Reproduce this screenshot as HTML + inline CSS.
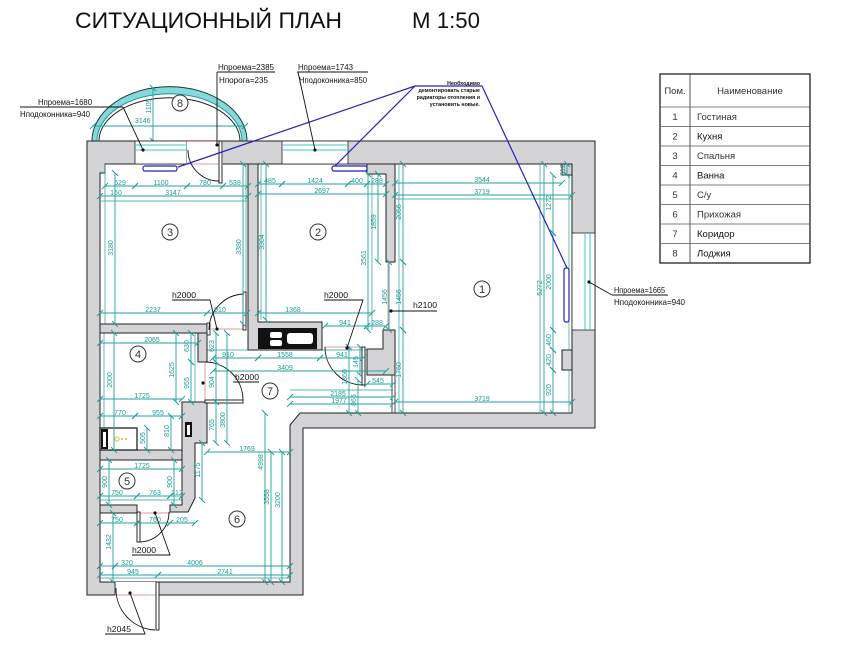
<!DOCTYPE html>
<html><head><meta charset="utf-8"><style>
html,body{margin:0;padding:0;background:#fff;}
svg{display:block}
.d{stroke:#22a09b;stroke-width:0.9;fill:none;marker-start:url(#t);marker-end:url(#t)}
.e{stroke:#22a09b;stroke-width:0.7;fill:none}
.dt{fill:#1f9a95;font-size:7px;font-family:"Liberation Sans",sans-serif}
.w{fill:#d4d4d6;stroke:#222;stroke-width:1}
.lb{fill:#111;font-size:8px;font-family:"Liberation Sans","DejaVu Sans",sans-serif}
.ln{stroke:#111;stroke-width:0.9;fill:none}
.pk{stroke:#e79aa6;stroke-width:1;fill:none}
.bl{stroke:#2424b8;stroke-width:1.2;fill:none}
.tb{fill:#333;font-size:9.5px;font-family:"Liberation Sans","DejaVu Sans",sans-serif}
.rn{fill:#fff;stroke:#333;stroke-width:1}
.rt{fill:#333;font-size:11px;font-family:"Liberation Sans",sans-serif;text-anchor:middle}
</style></head><body>
<svg width="866" height="657" viewBox="0 0 866 657" xmlns="http://www.w3.org/2000/svg">
<defs>
<marker id="t" markerWidth="8" markerHeight="8" refX="4" refY="4" orient="auto" markerUnits="userSpaceOnUse"><path d="M1,7 L7,1" stroke="#22a09b" stroke-width="1"/></marker>
</defs>

<!-- Title -->
<text x="75" y="28" font-size="22.5" textLength="267" lengthAdjust="spacingAndGlyphs" fill="#111" font-family="Liberation Sans, sans-serif">СИТУАЦИОННЫЙ ПЛАН</text>
<text x="412" y="28" font-size="22.5" textLength="68" lengthAdjust="spacingAndGlyphs" fill="#111" font-family="Liberation Sans, sans-serif">М 1:50</text>

<!-- Table -->
<rect x="660" y="74" width="150" height="189" fill="#fff" stroke="#222" stroke-width="1.3"/>
<line x1="690" y1="74" x2="690" y2="263" stroke="#444" stroke-width="0.9"/>
<g stroke="#555" stroke-width="0.8">
<line x1="660" y1="107" x2="810" y2="107"/>
<line x1="660" y1="126.5" x2="810" y2="126.5"/>
<line x1="660" y1="146" x2="810" y2="146"/>
<line x1="660" y1="165.5" x2="810" y2="165.5"/>
<line x1="660" y1="185" x2="810" y2="185"/>
<line x1="660" y1="204.5" x2="810" y2="204.5"/>
<line x1="660" y1="224" x2="810" y2="224"/>
<line x1="660" y1="243.5" x2="810" y2="243.5"/>
</g>
<text class="tb" x="675" y="94" text-anchor="middle">Пом.</text>
<text class="tb" x="750" y="94" text-anchor="middle">Наименование</text>
<g class="tb">
<text x="675" y="120" text-anchor="middle">1</text><text x="697" y="120">Гостиная</text>
<text x="675" y="139.5" text-anchor="middle">2</text><text x="697" y="139.5" fill="#111">Кухня</text>
<text x="675" y="159" text-anchor="middle">3</text><text x="697" y="159">Спальня</text>
<text x="675" y="178.5" text-anchor="middle">4</text><text x="697" y="178.5" fill="#111">Ванна</text>
<text x="675" y="198" text-anchor="middle">5</text><text x="697" y="198">С/у</text>
<text x="675" y="217.5" text-anchor="middle">6</text><text x="697" y="217.5">Прихожая</text>
<text x="675" y="237" text-anchor="middle">7</text><text x="697" y="237" fill="#111">Коридор</text>
<text x="675" y="256.5" text-anchor="middle">8</text><text x="697" y="256.5" fill="#111">Лоджия</text>
</g>

<!-- Balcony -->
<path d="M92,141 A77,54 0 0 1 247,141 L242,141 A72,47 0 0 0 97,141 Z" fill="#86d9da" stroke="#1a9a9a" stroke-width="1"/>
<path d="M92,141 A77,54 0 0 1 247,141" fill="none" stroke="#333" stroke-width="0.8"/>
<path d="M99,141 A70,43 0 0 1 240,141" fill="none" stroke="#222" stroke-width="1"/>
<line class="d" x1="93" y1="126" x2="245" y2="126"/>
<text class="dt" x="135" y="123">3146</text>
<line class="d" x1="153" y1="88" x2="153" y2="141"/>
<text class="dt" transform="translate(151,106) rotate(-90)" text-anchor="middle">1105</text>
<circle class="rn" cx="180" cy="103" r="8"/><text class="rt" x="180" y="107">8</text>

<!-- Building footprint -->
<path class="w" d="M87,141 H595 V428 H303 V595 H87 Z"/>
<!-- Interior -->
<path d="M105,164 H572 V413 H300 L290,425 V582 H100 V173 H105 Z" fill="#fff" stroke="#222" stroke-width="1"/>

<!-- top windows -->
<rect x="135" y="141" width="52" height="23" fill="#fff" stroke="#222" stroke-width="0.8"/>
<line x1="135" y1="145" x2="187" y2="145" stroke="#3cc9cf" stroke-width="1"/>
<line x1="135" y1="150" x2="187" y2="150" stroke="#3cc9cf" stroke-width="1"/>
<rect x="282" y="141" width="66" height="23" fill="#fff" stroke="#222" stroke-width="0.8"/>
<line x1="282" y1="145" x2="348" y2="145" stroke="#3cc9cf" stroke-width="1"/>
<line x1="282" y1="150" x2="348" y2="150" stroke="#3cc9cf" stroke-width="1"/>
<!-- balcony door -->
<rect x="187" y="141" width="36" height="23" fill="#fff"/>
<line class="pk" x1="187" y1="141.5" x2="223" y2="141.5"/>
<line class="pk" x1="187" y1="164" x2="223" y2="164"/>
<rect x="219" y="141" width="3" height="42" fill="#fff" stroke="#111" stroke-width="0.9"/>
<path d="M188,150 A31,31 0 0 0 219,181" class="ln"/>
<!-- right window -->
<rect x="572" y="233" width="23" height="97" fill="#fff" stroke="#222" stroke-width="0.8"/>
<line x1="585" y1="233" x2="585" y2="330" stroke="#3cc9cf" stroke-width="1"/>
<line x1="590" y1="233" x2="590" y2="330" stroke="#3cc9cf" stroke-width="1"/>

<!-- extension lines -->
<g class="e">
<line x1="105" y1="164" x2="105" y2="324"/>
<line x1="246" y1="164" x2="246" y2="324"/>
<line x1="261" y1="164" x2="261" y2="320"/>
<line x1="372" y1="174" x2="372" y2="330"/>
<line x1="399" y1="164" x2="399" y2="413"/>
<line x1="540" y1="164" x2="540" y2="413"/>
<line x1="569" y1="175" x2="569" y2="413"/>
<line x1="207" y1="350" x2="386" y2="350"/>
<line x1="100" y1="329" x2="207" y2="329"/>
<line x1="104" y1="333" x2="104" y2="450"/>
<line x1="195" y1="333" x2="195" y2="402"/>
<line x1="290" y1="390" x2="393" y2="390"/>
<line x1="100" y1="578" x2="290" y2="578"/>
<line x1="100" y1="500" x2="182" y2="500"/>
</g>

<!-- Partition walls -->
<path class="w" d="M248,164 H258 V322 H322 V350 H248 Z"/>
<rect x="258" y="328" width="59" height="21" fill="#111"/>
<rect x="270" y="332" width="12" height="6" rx="2" fill="#fff"/>
<rect x="270" y="340" width="12" height="6" rx="2" fill="#fff"/>
<rect x="287" y="333" width="26" height="11" rx="3" fill="#fff"/>
<path class="w" d="M367,164 H395 V262 H386 V174 H367 Z"/>
<path class="w" d="M383,330 H395 V375 H367 V349 H383 Z"/>
<line x1="392" y1="375" x2="392" y2="413" stroke="#222" stroke-width="0.8"/>
<line x1="395" y1="375" x2="395" y2="413" stroke="#222" stroke-width="0.8"/>
<rect class="w" x="562" y="164" width="10" height="11"/>
<rect class="w" x="562" y="350" width="10" height="20"/>
<path class="w" d="M100,324 H207 V333 H100 Z"/>
<rect x="207" y="323" width="3" height="12" fill="#fff" stroke="#111" stroke-width="0.8"/>
<path class="w" d="M198,333 H207 V362 H198 Z"/>
<path class="w" d="M182,402 H207 V443 H195 V498 L188,512 H170 V505 H182 Z"/>
<rect x="185" y="422" width="7" height="15" fill="#111"/>
<rect x="187" y="425" width="3" height="10" fill="#fff"/>
<rect class="w" x="100" y="450" width="82" height="10"/>
<rect class="w" x="100" y="505" width="37" height="8"/>
<rect x="100" y="428" width="37" height="22" fill="#fff" stroke="#111" stroke-width="1.2"/>
<rect x="101" y="429" width="7" height="20" fill="#111"/>
<rect x="103" y="432" width="3" height="15" fill="#fff"/>
<circle cx="117" cy="439" r="2.2" fill="none" stroke="#e8b020" stroke-width="0.8"/>
<circle cx="122" cy="439" r="1" fill="#e8b020"/>
<circle cx="126" cy="439" r="1" fill="#e8b020"/>
<!-- entrance opening -->
<rect x="115" y="582" width="43" height="13" fill="#fff"/>
<line class="pk" x1="115" y1="595" x2="158" y2="595"/>
<line x1="115" y1="582" x2="115" y2="595" stroke="#222" stroke-width="0.9"/>
<rect x="156" y="582" width="3" height="48" fill="#fff" stroke="#111" stroke-width="0.9"/>
<path d="M116,588 A41,41 0 0 0 155,630" class="ln"/>

<!-- Doors -->
<line class="pk" x1="210" y1="329" x2="245" y2="329"/>
<rect x="243" y="292" width="3" height="38" fill="#fff" stroke="#111" stroke-width="0.9"/>
<path d="M209,330 A36,36 0 0 1 244,294" class="ln"/>
<line class="pk" x1="205" y1="362" x2="205" y2="402"/>
<rect x="205" y="400" width="38" height="3" fill="#fff" stroke="#111" stroke-width="0.9"/>
<path d="M205,362 A38,38 0 0 1 243,400" class="ln"/>
<line class="pk" x1="388" y1="262" x2="388" y2="330"/>
<line class="pk" x1="325" y1="347" x2="362" y2="347"/>
<rect x="362" y="347" width="3" height="38" fill="#fff" stroke="#111" stroke-width="0.9"/>
<path d="M325,347 A38,38 0 0 0 363,385" class="ln"/>
<line class="pk" x1="138" y1="513" x2="170" y2="513"/>
<rect x="137" y="512" width="3" height="30" fill="#fff" stroke="#111" stroke-width="0.9"/>
<path d="M139,542 A30,30 0 0 0 169,512" class="ln"/>

<!-- Dimension lines: horizontal -->
<g>
<line class="d" x1="105" y1="186" x2="135" y2="186"/><line class="d" x1="135" y1="186" x2="187" y2="186"/><line class="d" x1="187" y1="186" x2="223" y2="186"/><line class="d" x1="223" y1="186" x2="248" y2="186"/>
<line class="d" x1="100" y1="196" x2="248" y2="196"/>
<line class="d" x1="258" y1="184" x2="282" y2="184"/><line class="d" x1="282" y1="184" x2="348" y2="184"/><line class="d" x1="348" y1="184" x2="367" y2="184"/><line class="d" x1="367" y1="184" x2="386" y2="184"/>
<line class="d" x1="258" y1="194" x2="386" y2="194"/>
<line class="d" x1="395" y1="183" x2="562" y2="183"/>
<line class="d" x1="395" y1="195" x2="572" y2="195"/>
<line class="d" x1="395" y1="402" x2="572" y2="402"/>
<line class="d" x1="100" y1="313" x2="207" y2="313"/><line class="d" x1="207" y1="313" x2="247" y2="313"/>
<line class="d" x1="258" y1="313" x2="372" y2="313"/>
<line class="d" x1="325" y1="326" x2="367" y2="326"/><line class="d" x1="367" y1="326" x2="386" y2="326"/>
<line class="d" x1="213" y1="358" x2="258" y2="358"/><line class="d" x1="258" y1="358" x2="320" y2="358"/><line class="d" x1="320" y1="358" x2="363" y2="358"/>
<line class="d" x1="213" y1="371" x2="386" y2="371"/>
<line class="d" x1="100" y1="343" x2="198" y2="343"/>
<line class="d" x1="100" y1="399" x2="182" y2="399"/>
<line class="d" x1="100" y1="416" x2="135" y2="416"/><line class="d" x1="135" y1="416" x2="182" y2="416"/>
<line class="d" x1="207" y1="452" x2="290" y2="452"/>
<line class="d" x1="100" y1="469" x2="182" y2="469"/>
<line class="d" x1="100" y1="496" x2="137" y2="496"/><line class="d" x1="137" y1="496" x2="170" y2="496"/><line class="d" x1="170" y1="496" x2="182" y2="496"/>
<line class="d" x1="100" y1="523" x2="137" y2="523"/><line class="d" x1="137" y1="523" x2="170" y2="523"/><line class="d" x1="170" y1="523" x2="195" y2="523"/>
<line class="d" x1="100" y1="566" x2="115" y2="566"/><line class="d" x1="115" y1="566" x2="290" y2="566"/>
<line class="d" x1="100" y1="575" x2="158" y2="575"/><line class="d" x1="158" y1="575" x2="290" y2="575"/>
<line class="d" x1="290" y1="397" x2="393" y2="397"/>
<line class="d" x1="290" y1="404" x2="393" y2="404"/>
<line class="d" x1="367" y1="384" x2="393" y2="384"/>
</g>
<g class="dt" text-anchor="middle">
<text x="120" y="185">629</text><text x="161" y="185">1100</text><text x="205" y="185">780</text><text x="235" y="185">538</text>
<text x="116" y="195">160</text><text x="173" y="195">3147</text>
<text x="270" y="183">485</text><text x="315" y="183">1424</text><text x="357" y="183">400</text><text x="377" y="183">288</text>
<text x="322" y="193">2697</text>
<text x="482" y="182">3544</text><text x="482" y="194">3719</text><text x="482" y="401">3719</text>
<text x="153" y="312">2237</text><text x="220" y="312">910</text><text x="293" y="312">1368</text>
<text x="345" y="325">941</text><text x="377" y="325">288</text>
<text x="228" y="357">910</text><text x="285" y="357">1558</text><text x="342" y="357">941</text>
<text x="285" y="370">3409</text>
<text x="152" y="342">2065</text><text x="142" y="398">1725</text>
<text x="120" y="415">770</text><text x="158" y="415">955</text>
<text x="247" y="451">1769</text>
<text x="142" y="468">1725</text>
<text x="117" y="495">750</text><text x="155" y="495">763</text><text x="177" y="495">212</text>
<text x="117" y="522">750</text><text x="155" y="522">760</text><text x="182" y="522">205</text>
<text x="127" y="565">320</text><text x="195" y="565">4006</text>
<text x="133" y="574">945</text><text x="225" y="574">2741</text>
<text x="338" y="396">2185</text><text x="339" y="403">1977</text><text x="378" y="383">545</text>
</g>

<!-- Dimension lines: vertical -->
<g>
<line class="d" x1="115" y1="173" x2="115" y2="324"/>
<line class="d" x1="243" y1="164" x2="243" y2="324"/>
<line class="d" x1="266" y1="164" x2="266" y2="320"/>
<line class="d" x1="368" y1="174" x2="368" y2="330"/>
<line class="d" x1="378" y1="174" x2="378" y2="262"/>
<line class="d" x1="403" y1="164" x2="403" y2="262"/>
<line class="d" x1="389" y1="262" x2="389" y2="330"/>
<line class="d" x1="403" y1="262" x2="403" y2="330"/>
<line class="d" x1="403" y1="330" x2="403" y2="413"/>
<line class="d" x1="553" y1="175" x2="553" y2="233"/>
<line class="d" x1="544" y1="164" x2="544" y2="413"/>
<line class="d" x1="553" y1="233" x2="553" y2="330"/>
<line class="d" x1="553" y1="330" x2="553" y2="350"/>
<line class="d" x1="553" y1="350" x2="553" y2="370"/>
<line class="d" x1="553" y1="370" x2="553" y2="413"/>
<line class="d" x1="567" y1="164" x2="567" y2="175"/>
<line class="d" x1="114" y1="333" x2="114" y2="450"/>
<line class="d" x1="176" y1="333" x2="176" y2="402"/>
<line class="d" x1="191" y1="333" x2="191" y2="362"/>
<line class="d" x1="191" y1="362" x2="191" y2="402"/>
<line class="d" x1="216" y1="333" x2="216" y2="362"/>
<line class="d" x1="216" y1="362" x2="216" y2="402"/>
<line class="d" x1="216" y1="402" x2="216" y2="443"/>
<line class="d" x1="227" y1="333" x2="227" y2="443"/>
<line class="d" x1="147" y1="428" x2="147" y2="450"/>
<line class="d" x1="171" y1="416" x2="171" y2="450"/>
<line class="d" x1="202" y1="443" x2="202" y2="500"/>
<line class="d" x1="265" y1="413" x2="265" y2="582"/>
<line class="d" x1="271" y1="452" x2="271" y2="582"/>
<line class="d" x1="282" y1="452" x2="282" y2="582"/>
<line class="d" x1="109" y1="460" x2="109" y2="505"/>
<line class="d" x1="174" y1="460" x2="174" y2="505"/>
<line class="d" x1="113" y1="513" x2="113" y2="582"/>
<line class="d" x1="349" y1="347" x2="349" y2="413"/>
<line class="d" x1="358" y1="380" x2="358" y2="413"/>
<line class="d" x1="360" y1="347" x2="360" y2="375"/>
<line class="e" x1="100" y1="201" x2="248" y2="201"/>
<line class="e" x1="395" y1="199" x2="572" y2="199"/>
</g>
<g class="dt" text-anchor="middle">
<text transform="translate(113,248) rotate(-90)">3180</text>
<text transform="translate(241,247) rotate(-90)">3380</text>
<text transform="translate(264,242) rotate(-90)">3304</text>
<text transform="translate(366,258) rotate(-90)">3561</text>
<text transform="translate(376,222) rotate(-90)">1859</text>
<text transform="translate(401,212) rotate(-90)">2056</text>
<text transform="translate(387,297) rotate(-90)">1456</text>
<text transform="translate(401,297) rotate(-90)">1456</text>
<text transform="translate(401,370) rotate(-90)">1760</text>
<text transform="translate(551,203) rotate(-90)">1272</text>
<text transform="translate(542,288) rotate(-90)">5272</text>
<text transform="translate(551,282) rotate(-90)">2000</text>
<text transform="translate(551,340) rotate(-90)">460</text>
<text transform="translate(551,360) rotate(-90)">420</text>
<text transform="translate(551,390) rotate(-90)">920</text>
<text transform="translate(565,170) rotate(-90)">312</text>
<text transform="translate(112,380) rotate(-90)">2000</text>
<text transform="translate(174,370) rotate(-90)">1625</text>
<text transform="translate(189,346) rotate(-90)">630</text>
<text transform="translate(189,383) rotate(-90)">955</text>
<text transform="translate(214,346) rotate(-90)">623</text>
<text transform="translate(214,382) rotate(-90)">904</text>
<text transform="translate(214,425) rotate(-90)">765</text>
<text transform="translate(225,420) rotate(-90)">3800</text>
<text transform="translate(145,438) rotate(-90)">505</text>
<text transform="translate(169,431) rotate(-90)">810</text>
<text transform="translate(200,470) rotate(-90)">1175</text>
<text transform="translate(263,462) rotate(-90)">4998</text>
<text transform="translate(269,497) rotate(-90)">3558</text>
<text transform="translate(280,500) rotate(-90)">3200</text>
<text transform="translate(107,482) rotate(-90)">900</text>
<text transform="translate(172,482) rotate(-90)">900</text>
<text transform="translate(111,542) rotate(-90)">1432</text>
<text transform="translate(347,377) rotate(-90)">1360</text>
<text transform="translate(356,400) rotate(-90)">865</text>
<text transform="translate(358,362) rotate(-90)">145</text>
</g>

<!-- Radiators and blue leaders -->
<path class="bl" d="M415,86 H482"/>
<path class="bl" d="M415,86 L178,167"/>
<path class="bl" d="M415,86 L333,168"/>
<path class="bl" d="M482,86 L567,268"/>
<rect x="143" y="166" width="34" height="5" rx="2" fill="#fff" stroke="#2424b8" stroke-width="1.2"/>
<rect x="332" y="166" width="35" height="5" rx="2" fill="#fff" stroke="#2424b8" stroke-width="1.2"/>
<rect x="564" y="268" width="5" height="54" rx="2" fill="#fff" stroke="#2424b8" stroke-width="1.2"/>
<g font-family="Liberation Sans, sans-serif" font-size="5.3" font-weight="bold" fill="#111" text-anchor="end">
<text x="480" y="85">Необходимо</text>
<text x="480" y="92">демонтировать старые</text>
<text x="480" y="99">радиаторы отопления и</text>
<text x="480" y="106">установить новые.</text>
</g>

<!-- Labels -->
<text class="lb" x="38" y="105" textLength="54" lengthAdjust="spacingAndGlyphs">Нпроема=1680</text>
<line class="ln" x1="20" y1="107" x2="123" y2="107"/>
<text class="lb" x="20" y="117" textLength="70" lengthAdjust="spacingAndGlyphs">Нподоконника=940</text>
<line class="ln" x1="123" y1="107" x2="143" y2="150"/>
<circle cx="143" cy="150" r="1.6" fill="#111"/>

<text class="lb" x="218" y="70" textLength="56" lengthAdjust="spacingAndGlyphs">Нпроема=2385</text>
<line class="ln" x1="217" y1="72" x2="275" y2="72"/>
<text class="lb" x="219" y="83" textLength="49" lengthAdjust="spacingAndGlyphs">Нпорога=235</text>
<line class="ln" x1="217" y1="72" x2="217" y2="145"/>
<circle cx="217" cy="145" r="1.6" fill="#111"/>

<text class="lb" x="298" y="70" textLength="55" lengthAdjust="spacingAndGlyphs">Нпроема=1743</text>
<line class="ln" x1="297" y1="72" x2="368" y2="72"/>
<text class="lb" x="299" y="83" textLength="68" lengthAdjust="spacingAndGlyphs">Нподоконника=850</text>
<line class="ln" x1="298" y1="72" x2="315" y2="150"/>
<circle cx="315" cy="150" r="1.6" fill="#111"/>

<text class="lb" x="614" y="293" textLength="51" lengthAdjust="spacingAndGlyphs">Нпроема=1665</text>
<line class="ln" x1="612" y1="295" x2="668" y2="295"/>
<text class="lb" x="614" y="305" textLength="71" lengthAdjust="spacingAndGlyphs">Нподоконника=940</text>
<line class="ln" x1="589" y1="282" x2="612" y2="295"/>
<circle cx="589" cy="282" r="1.6" fill="#111"/>

<!-- h labels -->
<text class="lb" x="172" y="298" textLength="24" lengthAdjust="spacingAndGlyphs">h2000</text>
<polyline class="ln" points="172,300 210,300 217,329"/>
<circle cx="217" cy="329" r="1.6" fill="#111"/>
<text class="lb" x="324" y="298" textLength="24" lengthAdjust="spacingAndGlyphs">h2000</text>
<polyline class="ln" points="324,300 363,300 347,348"/>
<circle cx="347" cy="348" r="1.6" fill="#111"/>
<text class="lb" x="235" y="380" textLength="24" lengthAdjust="spacingAndGlyphs">h2000</text>
<line class="ln" x1="233" y1="382" x2="259" y2="382"/>
<circle cx="203" cy="383" r="1.6" fill="#111"/>
<text class="lb" x="413" y="308" textLength="24" lengthAdjust="spacingAndGlyphs">h2100</text>
<polyline class="ln" points="391,311 437,311"/>
<circle cx="391" cy="311" r="1.6" fill="#111"/>
<text class="lb" x="132" y="553" textLength="24" lengthAdjust="spacingAndGlyphs">h2000</text>
<polyline class="ln" points="132,555 170,555 155,513"/>
<circle cx="155" cy="513" r="1.6" fill="#111"/>
<text class="lb" x="107" y="632" textLength="24" lengthAdjust="spacingAndGlyphs">h2045</text>
<polyline class="ln" points="105,634 145,634 130,593"/>
<circle cx="130" cy="593" r="1.6" fill="#111"/>

<!-- Room numbers -->
<circle class="rn" cx="170" cy="232" r="8"/><text class="rt" x="170" y="236">3</text>
<circle class="rn" cx="318" cy="232" r="8"/><text class="rt" x="318" y="236">2</text>
<circle class="rn" cx="482" cy="289" r="8"/><text class="rt" x="482" y="293">1</text>
<circle class="rn" cx="138" cy="354" r="8"/><text class="rt" x="138" y="358">4</text>
<circle class="rn" cx="270" cy="391" r="8"/><text class="rt" x="270" y="395">7</text>
<circle class="rn" cx="127" cy="481" r="8"/><text class="rt" x="127" y="485">5</text>
<circle class="rn" cx="237" cy="519" r="8"/><text class="rt" x="237" y="523">6</text>
</svg>
</body></html>
